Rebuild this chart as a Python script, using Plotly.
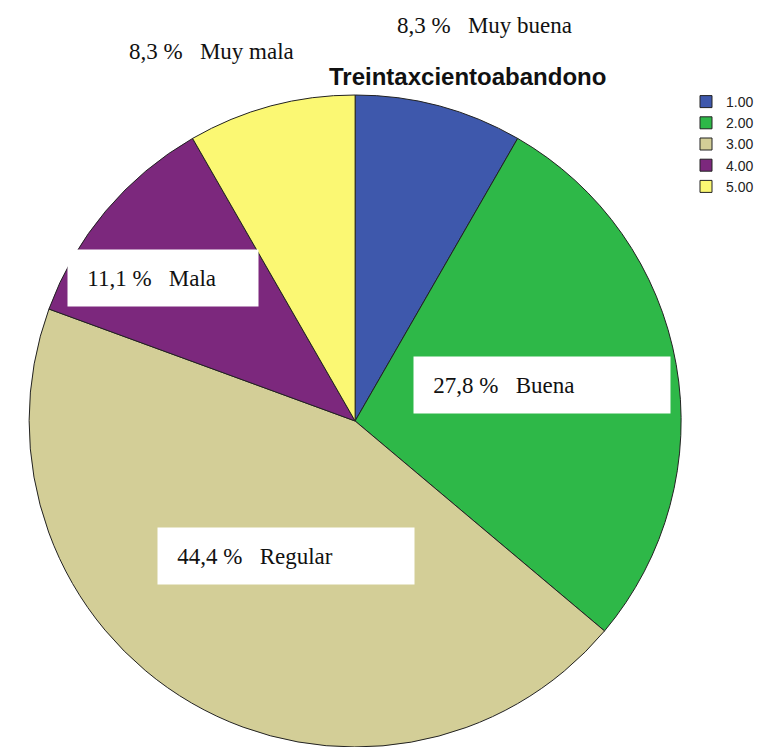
import plotly.graph_objects as go

# Datos del gráfico
categorias = ['1.00', '2.00', '3.00', '4.00', '5.00']
porcentajes = [8.3, 27.8, 44.4, 11.1, 8.3]
etiquetas = ['Muy buena', 'Buena', 'Regular', 'Mala', 'Muy mala']
colores = ['#3E58AC', '#2EB848', '#D3CE97', '#7C287D', '#FBF873']

W, H = 759, 747
ANCHO_UTIL = 741.5  # ancho efectivo que usa la página al dibujar


def px(x):
    return (x - 1.6) / ANCHO_UTIL


def py(y):
    return 1 - y / H


fig = go.Figure()

fig.add_trace(go.Pie(
    labels=categorias,
    values=porcentajes,
    sort=False,
    direction='clockwise',
    rotation=0,
    marker=dict(colors=colores, line=dict(color='#222222', width=1)),
    textinfo='none',
    hoverinfo='label+percent',
    domain=dict(x=[px(30), px(682)], y=[0, 652 / H]),
))

# cajas de texto: (x izquierda o centro, centro y, ancho de caja o None)
cajas = {
    'Muy buena': (485, 26, None),
    'Muy mala': (213, 52, None),
    'Mala': (68, 278, 190),
    'Buena': (414, 385, 256),
    'Regular': (158, 556, 256),
}


def fmt(p):
    return f"{p:.1f}".replace('.', ',') + ' %'


for pct, nombre in zip(porcentajes, etiquetas):
    cx, cy, ancho = cajas[nombre]
    if ancho is None:
        fig.add_annotation(
            x=px(cx), y=py(cy), xref='paper', yref='paper',
            text=f"{fmt(pct)}&nbsp;&nbsp;&nbsp;{nombre}", showarrow=False,
            font=dict(family='Liberation Serif', size=23, color='#111111'),
            xanchor='center', yanchor='middle',
        )
    else:
        fig.add_annotation(
            x=px(cx), y=py(cy), xref='paper', yref='paper',
            text=f"&nbsp;&nbsp;&nbsp;{fmt(pct)}&nbsp;&nbsp;&nbsp;{nombre}",
            showarrow=False,
            font=dict(family='Liberation Serif', size=23, color='#111111'),
            xanchor='left', yanchor='middle',
            bgcolor='white', width=ancho - 4, height=52, align='left',
            borderpad=2,
        )

fig.add_annotation(
    x=px(468), y=py(77), xref='paper', yref='paper',
    text='<b>Treintaxcientoabandono</b>', showarrow=False,
    font=dict(family='Liberation Sans', size=24, color='#111111'),
    xanchor='center', yanchor='middle',
)

fig.update_layout(
    width=W, height=H,
    margin=dict(l=0, r=0, t=0, b=0),
    paper_bgcolor='white',
    plot_bgcolor='white',
    showlegend=True,
    legend=dict(
        x=0.9236, y=py(86), xanchor='left', yanchor='top',
        font=dict(family='Liberation Sans', size=14, color='#222222'),
        tracegroupgap=0, itemwidth=30,
    ),
)

# sin margen ni barras de desplazamiento en la página
fig.write_html(
    "out.html",
    config={'displayModeBar': False, 'responsive': False},
    post_script=(
        "document.documentElement.style.overflow='hidden';"
        "document.body.style.overflow='hidden';"
        "document.body.style.margin='0';"
    ),
)
